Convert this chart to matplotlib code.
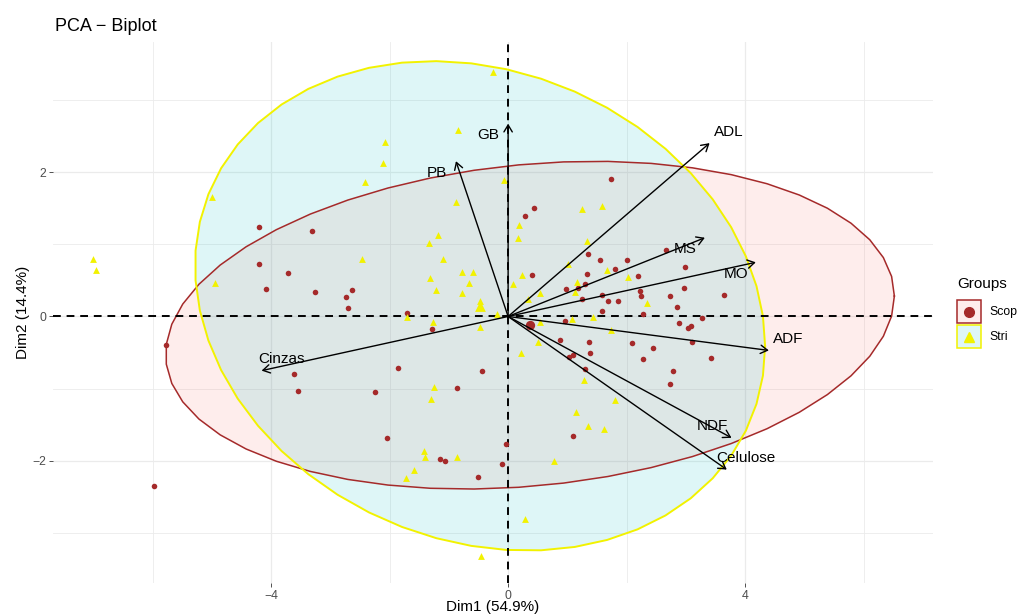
import numpy as np
import matplotlib.pyplot as plt
from matplotlib.patches import Polygon, FancyArrowPatch, Rectangle
from matplotlib.lines import Line2D

plt.rcParams["font.family"] = ["Liberation Sans", "DejaVu Sans"]

# individuals projected on Dim1 / Dim2, split by group
scop_dim1 = [-4.21, -3.31, -4.21, -3.72, -4.08, -3.26, -2.64, -2.73, -2.71, -1.71,
             -5.78, -3.62, -3.55, -1.86, -2.25, -0.44, -0.87, -1.28, -2.04, -1.15,
             -1.07, -0.50, -0.11, -0.03, -5.98, 1.73, 0.43, 0.29, 1.35, 2.66,
             1.55, 2.00, 2.99, 1.81, 0.41, 1.33, 2.19, 1.29, 1.18, 0.98,
             2.96, 2.23, 2.24, 3.65, 1.25, 1.59, 1.69, 1.86, 2.73, 2.85,
             1.59, 2.27, 0.96, 2.88, 3.08, 3.04, 3.27, 0.87, 1.37, 2.09,
             2.44, 3.11, 1.38, 1.10, 1.03, 2.27, 3.42, 1.29, 2.79, 2.74,
             1.09]
scop_dim2 = [1.24, 1.18, 0.73, 0.60, 0.38, 0.34, 0.37, 0.27, 0.12, 0.05,
             -0.39, -0.80, -1.03, -0.71, -1.05, -0.76, -0.99, -0.17, -1.68, -1.98,
             -2.00, -2.22, -2.04, -1.77, -2.35, 1.90, 1.50, 1.39, 0.86, 0.92,
             0.78, 0.78, 0.69, 0.66, 0.57, 0.59, 0.56, 0.45, 0.39, 0.38,
             0.39, 0.35, 0.29, 0.30, 0.24, 0.30, 0.22, 0.22, 0.28, 0.13,
             0.07, 0.04, -0.06, -0.09, -0.13, -0.16, -0.02, -0.33, -0.35, -0.37,
             -0.43, -0.36, -0.51, -0.53, -0.56, -0.59, -0.57, -0.73, -0.76, -0.94,
             -1.66]

stri_dim1 = [-0.26, -0.84, -2.08, -2.11, -2.42, -0.07, -0.88, -1.18, -1.34, -2.47,
             -1.10, -0.78, -0.60, -1.31, -0.66, -1.22, -0.77, -0.48, -0.19, 0.18,
             0.16, 0.08, -4.99, -4.95, -7.01, -6.96, -1.71, -1.27, -0.47, -1.25,
             -1.30, -1.42, -1.41, -0.87, -1.58, -1.73, -0.45, 1.24, 1.59, 1.33,
             1.01, 1.67, 0.24, 2.03, 1.16, 1.13, 0.54, 0.34, 2.34, 1.43,
             1.07, 1.74, 0.50, 0.21, 1.28, 1.80, 1.15, 1.34, 1.62, 0.77,
             0.29, 0.54]
stri_dim2 = [3.38, 2.58, 2.42, 2.12, 1.86, 1.89, 1.59, 1.13, 1.02, 0.80,
             0.80, 0.61, 0.61, 0.53, 0.47, 0.36, 0.33, 0.22, 0.04, 1.26,
             1.09, 0.45, 1.66, 0.47, 0.80, 0.65, -0.01, -0.08, -0.15, -0.98,
             -1.14, -1.86, -1.95, -1.94, -2.12, -2.23, -3.32, 1.49, 1.53, 1.05,
             0.73, 0.65, 0.57, 0.55, 0.48, 0.34, 0.33, 0.24, 0.19, -0.01,
             -0.04, -0.19, -0.35, -0.51, -0.88, -1.16, -1.32, -1.51, -1.56, -2.00,
             -2.80, -0.07]

# variable arrows
var_names = ["GB", "PB", "ADL", "MS", "MO", "ADF", "NDF", "Celulose", "Cinzas"]
var_dim1 = [0.00, -0.88, 3.40, 3.32, 4.18, 4.40, 3.77, 3.69, -4.16]
var_dim2 = [2.67, 2.15, 2.40, 1.09, 0.75, -0.47, -1.68, -2.12, -0.75]
# which side of the arrow tip each label sits on
label_side_x = [-1, -1, 1, -1, -1, 1, -1, 1, 1]
label_side_y = [-1, -1, 1, -1, -1, 1, 1, 1, 1]

groups = ["Scop", "Stri"]
dim_titles = ["Dim1 (54.9%)", "Dim2 (14.4%)"]

line_colors = ["#A52A2A", "#F2F200"]
fill_colors = ["#F8766D", "#00BFC4"]
markers = ["o", "^"]


def norm_ellipse(x, y, level=0.95, segments=51):
    """Data ellipse assuming a bivariate normal (same recipe as stat_ellipse)."""
    pts = np.column_stack([x, y])
    dfd = len(pts) - 1
    center = pts.mean(axis=0)
    chol = np.linalg.cholesky(np.cov(pts, rowvar=False)).T
    # F(2, dfd) quantile has a closed form
    fq = dfd / 2 * ((1 - level) ** (-2 / dfd) - 1)
    radius = np.sqrt(2 * fq)
    t = np.arange(segments + 1) * 2 * np.pi / segments
    circle = np.column_stack([np.cos(t), np.sin(t)])
    return center + radius * circle @ chol


W, H = 1018, 615
fig = plt.figure(figsize=(W / 100, H / 100), dpi=100)
ax = fig.add_axes([53 / W, 32 / H, 880 / W, 541 / H])

group_data = [(scop_dim1, scop_dim2), (stri_dim1, stri_dim2)]
edge_widths = [1.1, 1.4]

# ellipses: fills first, then outlines
for (gx, gy), fc in zip(group_data, fill_colors):
    ell = norm_ellipse(gx, gy)
    ax.add_patch(Polygon(ell, closed=True, facecolor=fc, alpha=0.13,
                         edgecolor="none", zorder=1))
for (gx, gy), lc, lw in zip(group_data, line_colors, edge_widths):
    ell = norm_ellipse(gx, gy)
    ax.plot(ell[:, 0], ell[:, 1], color=lc, lw=lw, zorder=2)

ax.axhline(0, color="black", lw=1.4, ls=(0, (4, 3)), zorder=3)
ax.axvline(0, color="black", lw=1.4, ls=(0, (4, 3)), zorder=3)

sizes = [16, 24]
mean_sizes = [45, 60]
for (gx, gy), lc, mk, s, ms in zip(group_data, line_colors, markers, sizes, mean_sizes):
    ax.scatter(gx, gy, s=s, color=lc, marker=mk, lw=0, zorder=4)
    ax.scatter(np.mean(gx), np.mean(gy), s=ms, color=lc, marker=mk, lw=0, zorder=5)

# variable arrows and their labels
for name, vx, vy, sx, sy in zip(var_names, var_dim1, var_dim2, label_side_x, label_side_y):
    arr = FancyArrowPatch((0, 0), (vx, vy),
                          arrowstyle="->,head_length=0.5,head_width=0.3",
                          mutation_scale=10, color="black", lw=1.0,
                          shrinkA=0, shrinkB=0, zorder=6)
    ax.add_patch(arr)
    ax.text(vx + 0.33 * sx, vy + 0.16 * sy, name, fontsize=11,
            ha="center", va="center", color="black", zorder=7)

ax.set_xlim(-7.68, 7.17)
ax.set_ylim(-3.69, 3.80)
ax.set_xticks([-4, 0, 4])
ax.set_yticks([-2, 0, 2])
ax.set_xticks([-6, -2, 2, 6], minor=True)
ax.set_yticks([-3, -1, 1, 3], minor=True)
ax.grid(which="major", color="#EBEBEB", lw=0.9)
ax.grid(which="minor", color="#EBEBEB", lw=0.6)
ax.set_axisbelow(True)
ax.tick_params(which="major", length=3, width=0.6, color="#333333",
               labelsize=8.8, labelcolor="#4D4D4D", pad=2)
ax.tick_params(which="minor", length=0)
for sp in ax.spines.values():
    sp.set_visible(False)

fig.text(55 / W, 1 - 30.7 / H, "PCA \u2212 Biplot", fontsize=13, va="baseline")
fig.text(493 / W, 4 / H, dim_titles[0], fontsize=11, ha="center", va="baseline")
fig.text(27 / W, 1 - 312.5 / H, dim_titles[1], fontsize=11, ha="center",
         va="baseline", rotation=90, rotation_mode="anchor")

# legend
fig.text(957 / W, 1 - 284 / H, "Groups", fontsize=11, va="center")
key_top = [300, 325]
for g, lc, fc, mk, top in zip(groups, line_colors, fill_colors, markers, key_top):
    box = (956.7 / W, 1 - (top + 23.3) / H)
    fig.add_artist(Rectangle(box, 24 / W, 23.3 / H, facecolor=fc, alpha=0.13,
                             edgecolor="none", transform=fig.transFigure))
    fig.add_artist(Rectangle(box, 24 / W, 23.3 / H, facecolor="none",
                             edgecolor=lc, lw=1.1, transform=fig.transFigure))
    fig.add_artist(Line2D([968.7 / W], [1 - (top + 11.7) / H], marker=mk,
                          markersize=7, color=lc, lw=0,
                          transform=fig.transFigure))
    fig.text(989 / W, 1 - (top + 11.7) / H, g, fontsize=8.8, va="center")

fig.savefig("out.png", dpi=100)
